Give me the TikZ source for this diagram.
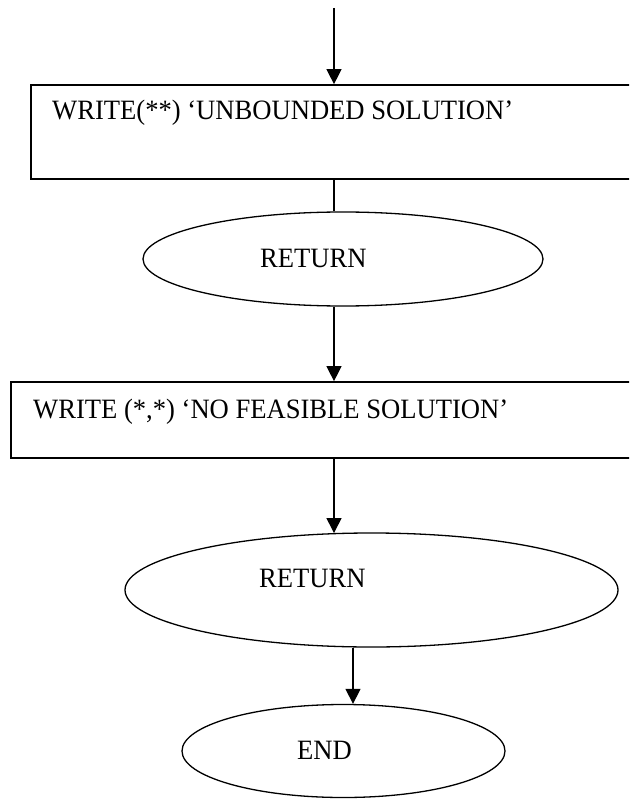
\documentclass[tikz,border=0pt]{standalone}
\usepackage{fontspec}
\setmainfont{Liberation Serif}
\usetikzlibrary{shapes.geometric,arrows.meta}
\newcommand{\sqz}[1]{\scalebox{0.95}[1]{#1}}
\begin{document}
\begin{tikzpicture}[x=1pt,y=1pt,
  box/.style={draw,line width=1.7pt,rectangle,inner sep=0pt},
  oval/.style={draw,line width=1.3pt,ellipse,inner sep=0pt},
  lbl/.style={anchor=base west,inner sep=0pt,font=\fontsize{28}{33}\selectfont},
  conn/.style={line width=1.3pt},
  arr/.style={conn,-{Triangle[length=15pt,width=15pt]}}]
\useasboundingbox (0,0) rectangle (629,-799);
\clip (0,0) rectangle (629,-799);
\coordinate (top) at (334,-8);
\node[box,minimum width=610pt,minimum height=94pt] (b1) at (336,-132) {};
\node[lbl] (t1) at (52,-120) {\sqz{WRITE(**) ‘UNBOUNDED SOLUTION’}};
\node[oval,minimum width=400pt,minimum height=94pt] (e1) at (343,-259) {};
\node[lbl] (r1) at (260,-267) {\sqz{RETURN}};
\node[box,minimum width=630pt,minimum height=76pt] (b2) at (326,-420) {};
\node[lbl] (t2) at (33,-418) {\sqz{WRITE (*,*) ‘NO FEASIBLE SOLUTION’}};
\node[oval,minimum width=493pt,minimum height=114pt] (e2) at (371.5,-590) {};
\node[lbl] (r2) at (259,-587) {\sqz{RETURN}};
\node[oval,minimum width=323pt,minimum height=93pt] (e3) at (343.5,-751) {};
\node[lbl] (t3) at (297,-759) {\sqz{END}};
\draw[arr] (top) -- (top |- b1.north);
\draw[conn] (top |- b1.south) -- (top |- e1.north);
\draw[arr] (top |- e1.south) -- (top |- b2.north);
\draw[arr] (top |- b2.south) -- ([yshift=-0.7pt]top |- e2.north);
\coordinate (mid) at (353,0);
\draw[arr] (mid |- e2.south) -- (mid |- e3.north);
\end{tikzpicture}
\end{document}
